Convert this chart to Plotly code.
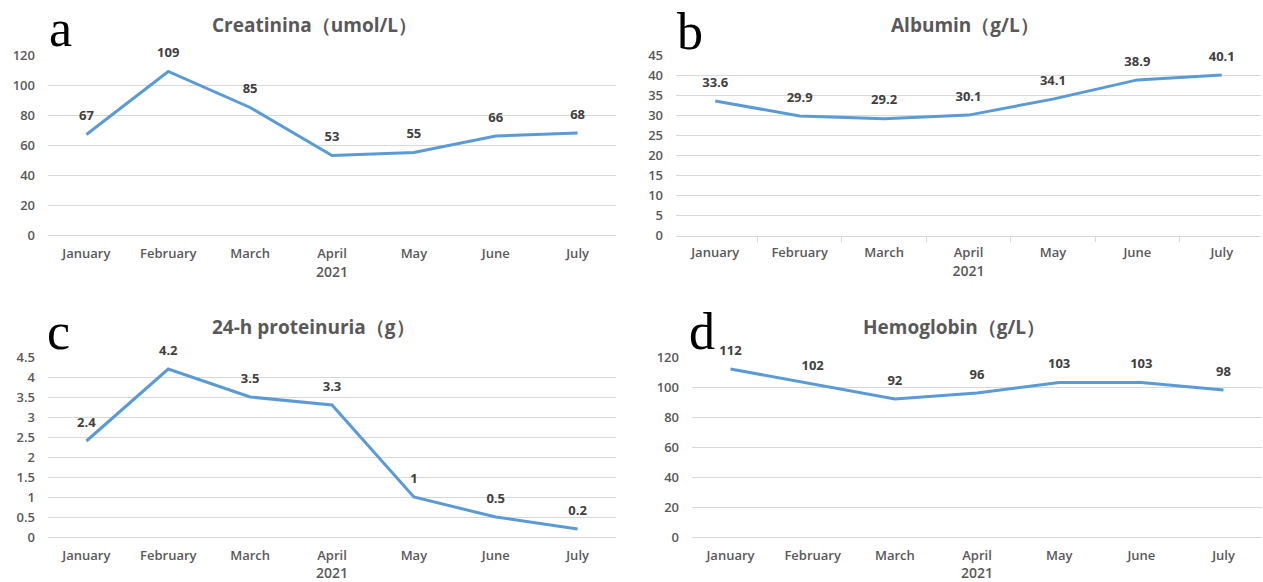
import plotly.graph_objects as go

months = ["January", "February", "March", "April", "May", "June", "July"]
creatinina = [67, 109, 85, 53, 55, 66, 68]
albumin = [33.6, 29.9, 29.2, 30.1, 34.1, 38.9, 40.1]
proteinuria = [2.4, 4.2, 3.5, 3.3, 1, 0.5, 0.2]
hemoglobin = [112, 102, 92, 96, 103, 103, 98]

titles = ["Creatinina（umol/L）", "Albumin（g/L）", "24-h proteinuria（g）", "Hemoglobin（g/L）"]
letters = ["a", "b", "c", "d"]
year_label = "2021"

W, H = 1263, 582
LINE = "#5B9BD5"
GRID = "#D9D9D9"
TXT = "#595959"
LBL = "#404040"
FONT = "Open Sans, Liberation Sans, sans-serif"

# panels: (x0, x1, y_top, y_bottom) in pixels
panels = [
    dict(data=creatinina, px=(48, 616), py=(55, 235), rng=[0, 120], dtick=20, title_x=314, title_y=25, letter_x=60, letter_y=28, ticks=False),
    dict(data=albumin, px=(676, 1261), py=(55.5, 235.5), rng=[0, 45], dtick=5, title_x=965, title_y=25, letter_x=690, letter_y=31, ticks=True),
    dict(data=proteinuria, px=(48, 616), py=(357, 537), rng=[0, 4.5], dtick=0.5, title_x=313, title_y=327, letter_x=58, letter_y=331, ticks=False),
    dict(data=hemoglobin, px=(692, 1262), py=(357, 537), rng=[0, 120], dtick=20, title_x=954, title_y=327, letter_x=702, letter_y=331, ticks=False),
]

fig = go.Figure()
annotations = []
for i, p in enumerate(panels):
    n = "" if i == 0 else str(i + 1)
    xa, ya = "x" + n, "y" + n
    fig.add_trace(go.Scatter(
        x=months, y=p["data"], xaxis=xa, yaxis=ya,
        mode="lines+markers+text",
        line=dict(color=LINE, width=3),
        marker=dict(size=16, opacity=0),
        text=[str(v) for v in p["data"]],
        textposition="top center",
        textfont=dict(family=FONT, size=13, color=LBL, weight="bold"),
        cliponaxis=False,
        showlegend=False, hoverinfo="x+y",
    ))
    x0, x1 = p["px"]
    yt, yb = p["py"]
    xdom = [x0 / W, x1 / W]
    ydom = [1 - yb / H, 1 - yt / H]
    xaxis = dict(
        domain=xdom, anchor=ya, type="category", automargin=False,
        showgrid=False, zeroline=False,
        showline=p["ticks"], linecolor=GRID, linewidth=1,
        ticks="outside" if p["ticks"] else "", tickson="boundaries",
        ticklen=5, tickcolor=GRID,
        ticklabelstandoff=5 if p["ticks"] else 9,
        tickfont=dict(family=FONT, size=13, color=TXT, weight=600),
        title=dict(text=year_label, font=dict(family=FONT, size=14, color=TXT, weight=600), standoff=2),
        fixedrange=True,
    )
    yaxis = dict(
        domain=ydom, anchor=xa, range=p["rng"], dtick=p["dtick"], automargin=False,
        showgrid=True, gridcolor=GRID, gridwidth=1,
        zeroline=True, zerolinecolor=GRID, zerolinewidth=1,
        showline=False, ticks="",
        tickfont=dict(family=FONT, size=13, color=TXT, weight=600),
        ticklabelstandoff=12,
        fixedrange=True,
    )
    fig.layout["xaxis" + n] = xaxis
    fig.layout["yaxis" + n] = yaxis
    annotations.append(dict(
        text="<b>" + titles[i] + "</b>", xref="paper", yref="paper",
        x=p["title_x"] / W, y=1 - p["title_y"] / H, xanchor="center", yanchor="middle",
        showarrow=False, font=dict(family=FONT, size=19, color=TXT),
    ))
    annotations.append(dict(
        text=letters[i], xref="paper", yref="paper",
        x=p["letter_x"] / W, y=1 - p["letter_y"] / H, xanchor="center", yanchor="middle",
        showarrow=False, font=dict(family="Liberation Serif, Times New Roman, serif", size=52, color="#000000"),
    ))

fig.update_layout(
    width=W, height=H,
    margin=dict(l=0, r=0, t=0, b=0, autoexpand=False),
    paper_bgcolor="white", plot_bgcolor="white",
    annotations=annotations,
)

fig.write_html(
    "out.html",
    config={"displayModeBar": False},
    post_script="document.body.style.margin='0';document.body.style.overflow='hidden';",
)
